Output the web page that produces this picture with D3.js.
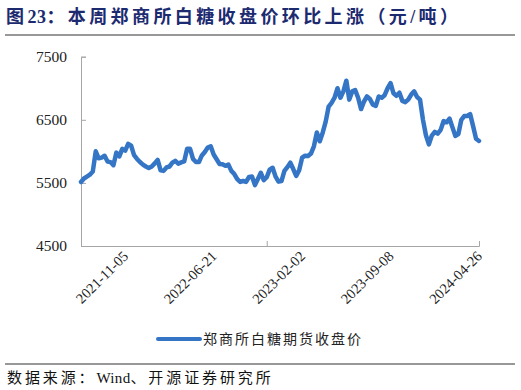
<!DOCTYPE html>
<html>
<head>
<meta charset="utf-8">
<script src="https://cdn.jsdelivr.net/npm/d3@7"></script>
<style>
  body { margin: 0; background: #fff; }
  svg { display: block; }
</style>
</head>
<body>
<div id="chart"></div>
<script>
var titleParts = ["图", "23", "：本周郑商所白糖收盘价环比上涨（元/吨）"];
var sourceParts = ["数据来源：", "Wind", "、开源证券研究所"];
var seriesName = "郑商所白糖期货收盘价";

// closing price, evenly spaced trading-day samples
var closePrice = [
    5515, 5570, 5600, 5630, 5680, 6000, 5890, 5900, 5930, 5840,
    5830, 5780, 5980, 5920, 6040, 6010, 6120, 6090, 5940, 5880,
    5830, 5790, 5760, 5735, 5760, 5810, 5865, 5700, 5690, 5745,
    5760, 5820, 5850, 5805, 5825, 5840, 6040, 6040, 5880, 5830,
    5830, 5935, 5990, 6060, 6080, 5950, 5875, 5800, 5795, 5770,
    5790, 5690, 5640, 5560, 5515, 5530, 5515, 5595, 5600, 5465,
    5560, 5660, 5545, 5590, 5710, 5740, 5600, 5520, 5530, 5690,
    5750, 5820, 5720, 5610, 5700, 5900, 5930, 5925, 5965, 6080,
    6300, 6160, 6300, 6470, 6710, 6770, 6850, 7000, 6850, 6950,
    7120, 6820, 6950, 6970, 6850, 6670, 6790, 6870, 6830, 6740,
    6720, 6870, 6850, 6890, 7000, 7080, 6920, 6880, 6930, 6800,
    6780, 6820, 6900, 6950, 6860, 6820, 6500, 6255, 6110, 6250,
    6310, 6280, 6340, 6480, 6460, 6520, 6380, 6245, 6275, 6500,
    6560, 6560, 6590, 6400, 6200, 6165
];

var xLabels = ["2021-11-05", "2022-06-21", "2023-02-02", "2023-09-08", "2024-04-26"];
var xLabelIdx = [15, 45, 75, 105, 135];
var xTickIdx = [0, 63, 135];
var yTicks = [4500, 5500, 6500, 7500];

var svgWidth = 521;
var svgHeight = 390;

var margin = { top: 56.7, right: 42, bottom: 144, left: 81 };
var width = svgWidth - margin.left - margin.right;
var height = 246 - margin.top;

var svg = d3.select("#chart")
    .append("svg")
        .attr("width", svgWidth)
        .attr("height", svgHeight);

var serif = "'Liberation Serif', 'Noto Sans CJK SC', serif";
var axisColor = "#a6a6a6";
var lineColor = "#3475c6";

// title + rules (latin bits without the wide spacing)
var title = svg.append("text")
    .attr("x", 6)
    .attr("y", 23)
    .style("font-family", serif)
    .style("font-size", "18px")
    .style("font-weight", "bold")
    .style("fill", "#1c2a70");
title.selectAll("tspan")
    .data(titleParts)
    .enter()
    .append("tspan")
        .style("letter-spacing", (d, i) => i == 1 ? "0.5px" : "3.4px")
        .text(d => d);

svg.append("line")
    .attr("x1", 5).attr("x2", 515)
    .attr("y1", 35).attr("y2", 35)
    .style("stroke", "#333").style("stroke-width", 1.2);

svg.append("line")
    .attr("x1", 5).attr("x2", 515)
    .attr("y1", 364).attr("y2", 364)
    .style("stroke", "#333").style("stroke-width", 1.2);

var source = svg.append("text")
    .attr("x", 7)
    .attr("y", 383)
    .style("font-family", serif)
    .style("font-size", "15px")
    .style("fill", "#111");
source.selectAll("tspan")
    .data(sourceParts)
    .enter()
    .append("tspan")
        .style("letter-spacing", (d, i) => i == 1 ? "0.3px" : "2.9px")
        .text(d => d);

var chartGroup = svg.append("g")
    .attr("transform", `translate(${margin.left}, ${margin.top})`);

var x = d3.scaleLinear()
    .domain([0, closePrice.length - 1])
    .range([0, width]);
var y = d3.scaleLinear()
    .domain([4500, 7500])
    .range([height, 0]);

var yAxis = d3.axisLeft(y)
    .tickValues(yTicks)
    .tickSize(-5)
    .tickPadding(14)
    .tickFormat(d3.format("d"));

var xAxis = d3.axisBottom(x)
    .tickValues(xTickIdx)
    .tickSize(-5)
    .tickFormat("");

var gy = chartGroup.append("g")
    .attr("class", "y axis")
    .call(yAxis);
gy.selectAll("path, line").style("stroke", axisColor);
gy.selectAll("text")
    .style("font-family", serif)
    .style("font-size", "15.5px")
    .style("fill", "#222");

var gx = chartGroup.append("g")
    .attr("class", "x axis")
    .attr("transform", "translate(0," + height + ")")
    .call(xAxis);
gx.selectAll("path, line").style("stroke", axisColor);

chartGroup.selectAll(".xlab")
    .data(xLabels)
    .enter()
    .append("text")
        .attr("class", "xlab")
        .attr("transform", (d, i) => `translate(${x(xLabelIdx[i]) + 4}, ${height + 11}) rotate(-45)`)
        .style("text-anchor", "end")
        .style("font-family", serif)
        .style("font-size", "14.5px")
        .style("fill", "#222")
        .text(d => d);

var valueline = d3.line()
    .x((d, i) => x(i))
    .y(d => y(d));

chartGroup.append("path")
    .style("stroke", lineColor)
    .style("stroke-width", 4.5)
    .style("stroke-linejoin", "round")
    .style("stroke-linecap", "round")
    .style("fill", "none")
    .attr("d", valueline(closePrice));

// legend
var legend = svg.append("g")
    .attr("transform", "translate(158, 339)");
legend.append("line")
    .attr("x1", 0).attr("x2", 42)
    .style("stroke", lineColor)
    .style("stroke-width", 4)
    .style("stroke-linecap", "round");
legend.append("text")
    .attr("x", 45)
    .attr("dy", "0.35em")
    .style("font-family", serif)
    .style("font-size", "14px")
    .style("letter-spacing", "2px")
    .style("fill", "#222")
    .text(seriesName);
</script>
</body>
</html>
